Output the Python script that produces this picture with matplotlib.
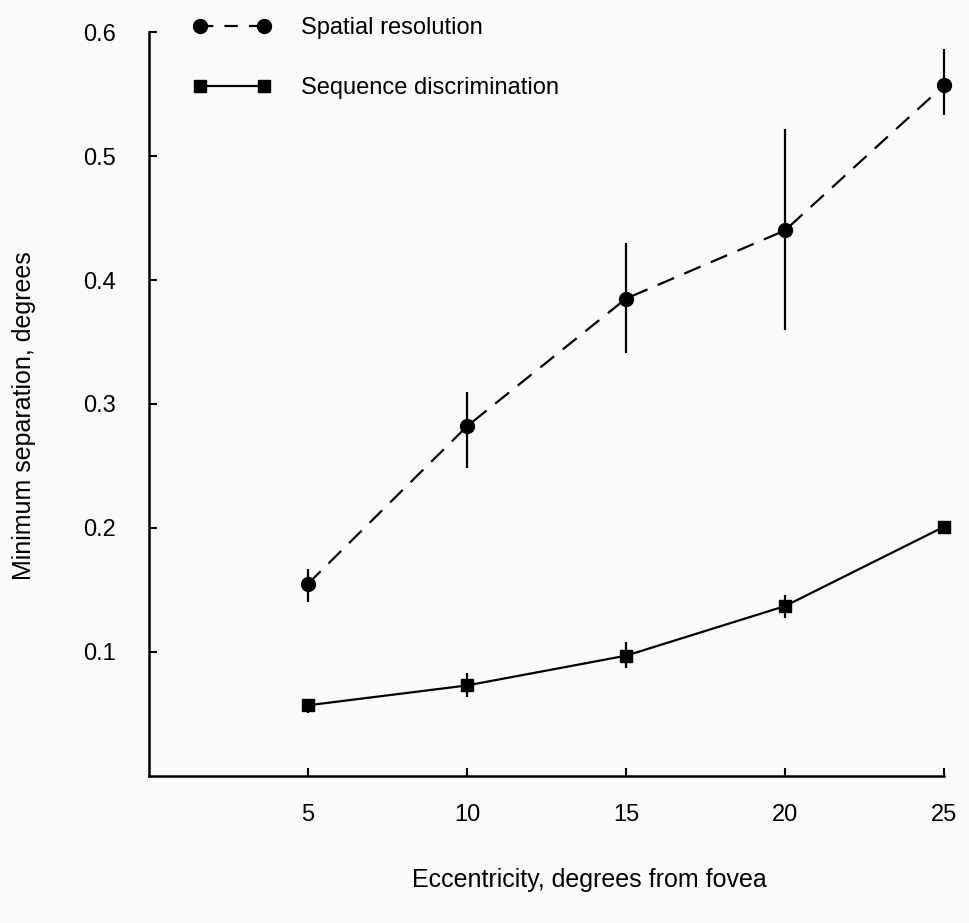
import numpy as np
import matplotlib.pyplot as plt
from matplotlib.lines import Line2D

# eccentricity (deg from fovea)
ecc = [5, 10, 15, 20, 25]

# spatial resolution: means and error bar ends
spatial = [0.155, 0.282, 0.385, 0.44, 0.557]
spatial_lo = [0.140, 0.248, 0.341, 0.360, 0.533]
spatial_hi = [0.167, 0.310, 0.430, 0.522, 0.586]

# sequence discrimination
sequence = [0.057, 0.073, 0.097, 0.137, 0.201]
sequence_lo = [0.051, 0.064, 0.087, 0.127, 0.201]
sequence_hi = [0.062, 0.083, 0.108, 0.146, 0.201]

xticks = [5, 10, 15, 20, 25]
yticks = [0.1, 0.2, 0.3, 0.4, 0.5, 0.6]

plt.rcParams['font.family'] = ['Liberation Sans', 'DejaVu Sans']

fig = plt.figure(figsize=(9.7, 9.23), dpi=100)
fig.patch.set_facecolor('#fafafa')
ax = fig.add_axes([0.1536, 0.1593, 0.8196, 0.806])
ax.set_facecolor('#fafafa')

dash = (0, (8, 5))

sp = np.array(spatial)
sq = np.array(sequence)
sp_err = [sp - np.array(spatial_lo), np.array(spatial_hi) - sp]
sq_err = [sq - np.array(sequence_lo), np.array(sequence_hi) - sq]

ax.errorbar(ecc, spatial, yerr=sp_err, fmt='none', ecolor='black',
            elinewidth=1.6, capsize=0, clip_on=False)
ax.plot(ecc, spatial, color='black', linestyle=dash, linewidth=1.6,
        marker='o', markersize=10, clip_on=False)

ax.errorbar(ecc, sequence, yerr=sq_err, fmt='none', ecolor='black',
            elinewidth=1.6, capsize=0, clip_on=False)
ax.plot(ecc, sequence, color='black', linestyle='-', linewidth=1.6,
        marker='s', markersize=8, clip_on=False)

ax.set_xlim(0, 25)
ax.set_ylim(0, 0.6)
ax.set_xticks(xticks)
ax.set_yticks(yticks)
ax.set_xticklabels([str(t) for t in xticks])
ax.set_yticklabels(['%.1f' % t for t in yticks])
ax.tick_params(direction='in', length=6, width=1.5, labelsize=17,
               colors='black')
ax.tick_params(axis='x', pad=20)
ax.tick_params(axis='y', pad=24)
ax.spines['top'].set_visible(False)
ax.spines['right'].set_visible(False)
for s in ['left', 'bottom']:
    ax.spines[s].set_linewidth(1.8)

handles = [
    Line2D([], [], color='black', linestyle=(0, (6, 5)), linewidth=1.6,
           marker='o', markersize=10),
    Line2D([], [], color='black', linestyle='-', linewidth=1.6,
           marker='s', markersize=8),
]
ax.legend(handles, ['Spatial resolution', 'Sequence discrimination'],
          loc='upper left', bbox_to_anchor=(0.055, 1.02), frameon=False,
          numpoints=2, handlelength=3.3, handletextpad=1.3, labelspacing=1.6,
          borderpad=0, borderaxespad=0, fontsize=17)

fig.text(0.608, 0.047, 'Eccentricity, degrees from fovea', ha='center',
         va='center', fontsize=18)
fig.text(0.025, 0.55, 'Minimum separation, degrees', ha='center',
         va='center', rotation=90, fontsize=18)

fig.savefig('out.png', dpi=100, facecolor=fig.get_facecolor())
